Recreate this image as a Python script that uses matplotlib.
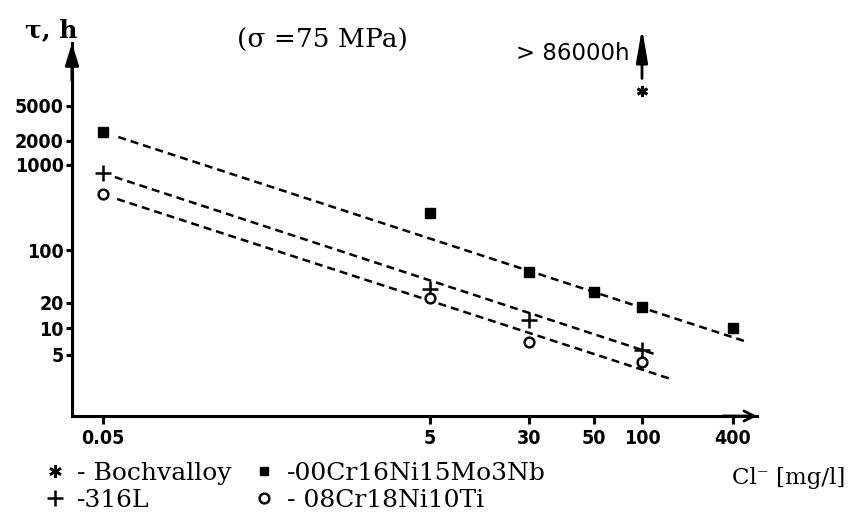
import numpy as np
import matplotlib
matplotlib.use("Agg")
import matplotlib.pyplot as plt
from matplotlib.lines import Line2D

# ---------------- data ----------------
cl_ticks = [0.05, 5, 30, 50, 100, 400]
cl_tick_labels = ["0.05", "5", "30", "50", "100", "400"]
tau_ticks = [5, 10, 20, 100, 1000, 2000, 5000]
tau_tick_labels = ["5", "10", "20", "100", "1000", "2000", "5000"]

series_names = ["Bochvalloy", "316L", "00Cr16Ni15Mo3Nb", "08Cr18Ni10Ti"]

nb_x = [0.05, 5, 30, 50, 100, 400]          # 00Cr16Ni15Mo3Nb (squares)
nb_y = [2500, 270, 51, 28, 18, 10]
l316_x = [0.05, 5, 30, 100]                 # 316L (plus)
l316_y = [800, 31, 12.5, 5.7]
ti_x = [0.05, 5, 30, 100]                   # 08Cr18Ni10Ti (circles)
ti_y = [450, 23, 7.0, 4.2]
boch_x = [100]                              # Bochvalloy (off scale)
boch_y = [86000]
off_scale_y = 7400                          # where off-scale values are drawn

# fitted (dashed) trend lines: end points
fit_nb_x = [0.062, 495]
fit_nb_y = [2220, 7.0]
fit_316_x = [0.059, 122]
fit_316_y = [722, 5.1]
fit_ti_x = [0.061, 156]
fit_ti_y = [398, 2.7]

# ---------------- scales: the scanned axes are only roughly logarithmic ----
x_anchor_log = [-3.0] + list(np.log10(cl_ticks)) + [4.0]
x_anchor_pos = [-175, 103, 430, 529, 594, 642, 733, 944]
y_anchor_log = [-1.0] + list(np.log10(tau_ticks)) + [6.0]
y_anchor_pos = [12, 165, 192, 217, 270, 355, 379, 414, 616]


def fx(v):
    v = np.clip(np.asarray(v, dtype=float), 1e-12, None)
    return np.interp(np.log10(v), x_anchor_log, x_anchor_pos)


def ifx(t):
    return 10 ** np.interp(np.asarray(t, dtype=float), x_anchor_pos, x_anchor_log)


def fy(v):
    v = np.clip(np.asarray(v, dtype=float), 1e-12, None)
    return np.interp(np.log10(v), y_anchor_log, y_anchor_pos)


def ify(t):
    return 10 ** np.interp(np.asarray(t, dtype=float), y_anchor_pos, y_anchor_log)


W, H = 850, 520
fig = plt.figure(figsize=(W / 100, H / 100), dpi=100)
fig.patch.set_facecolor("white")

ax_l, ax_r, ax_b, ax_t = 72, 757, 416, 43   # pixel frame
ax = fig.add_axes([ax_l / W, (H - ax_b) / H, (ax_r - ax_l) / W, (ax_b - ax_t) / H])
ax.set_xscale("function", functions=(fx, ifx))
ax.set_yscale("function", functions=(fy, ify))
ax.set_xlim(float(ifx(ax_l)), float(ifx(ax_r)))
ax.set_ylim(float(ify(H - ax_b)), float(ify(H - ax_t)))

dash = (0, (3.2, 2.0))
lw_fit = 1.8
ax.plot(fit_nb_x, fit_nb_y, color="black", lw=lw_fit, linestyle=dash)
ax.plot(fit_316_x, fit_316_y, color="black", lw=lw_fit, linestyle=dash)
ax.plot(fit_ti_x, fit_ti_y, color="black", lw=lw_fit, linestyle=dash)

ax.plot(nb_x, nb_y, linestyle="none", marker="s", markersize=7.5,
        color="black", clip_on=False)
ax.plot(l316_x, l316_y, linestyle="none", marker="+", markersize=11,
        markeredgewidth=1.8, color="black", clip_on=False)
ax.plot(ti_x, ti_y, linestyle="none", marker="o", markersize=7,
        markerfacecolor="white", markeredgewidth=1.8, color="black", clip_on=False)

boch_plot_y = np.minimum(boch_y, off_scale_y)
ax.plot(boch_x, boch_plot_y, linestyle="none", marker=(6, 2, 0), markersize=8,
        markeredgewidth=2, color="black", clip_on=False)
ax.annotate("", xy=(boch_x[0], 1.04), xycoords=("data", "axes fraction"),
            xytext=(boch_x[0], 0.905), textcoords=("data", "axes fraction"),
            arrowprops=dict(arrowstyle="-|>,head_length=1.0,head_width=0.17",
                            lw=2.0, color="black",
                            mutation_scale=20, shrinkA=0, shrinkB=0),
            annotation_clip=False)
ax.annotate(f"> {boch_y[0]}h", xy=(boch_x[0], 0.973),
            xycoords=("data", "axes fraction"), xytext=(-9, 0),
            textcoords="offset points", ha="right", va="center",
            fontsize=16.5, family="DejaVu Sans", annotation_clip=False)

# axes styling
for s in ["top", "right"]:
    ax.spines[s].set_visible(False)
for s in ["left", "bottom"]:
    ax.spines[s].set_linewidth(2.2)
ax.annotate("", xy=(0, 1.0), xycoords="axes fraction", xytext=(0, 0.9),
            textcoords="axes fraction",
            arrowprops=dict(arrowstyle="-|>,head_length=0.65,head_width=0.2",
                            lw=2.2, color="black",
                            mutation_scale=20, shrinkA=0, shrinkB=0),
            annotation_clip=False)
ax.annotate("", xy=(1.0, 0), xycoords="axes fraction", xytext=(0.95, 0),
            textcoords="axes fraction",
            arrowprops=dict(arrowstyle="->", lw=2.0, color="black",
                            mutation_scale=18, shrinkA=0, shrinkB=0),
            annotation_clip=False)

tick_font = dict(family="DejaVu Sans", weight="bold", stretch="condensed", size=14)
ax.set_xticks(cl_ticks)
ax.set_xticklabels(cl_tick_labels, fontdict=tick_font)
ax.set_yticks(tau_ticks)
ax.set_yticklabels(tau_tick_labels, fontdict=tick_font)
ax.minorticks_off()
ax.tick_params(axis="x", direction="out", length=6, width=2.2, pad=3)
ax.tick_params(axis="y", direction="out", length=4, width=2.2, pad=2)

serif = ["DejaVu Serif", "Liberation Serif"]
fig.text(25 / W, 1 - 30 / H, "τ, h", family=serif, weight="bold",
         fontsize=18, ha="left", va="center")
fig.text(322 / W, 1 - 40 / H, "(σ =75 MPa)", family=serif, fontsize=19,
         ha="center", va="center")
fig.text(845 / W, 1 - 478 / H, "Cl⁻ [mg/l]", family=serif, fontsize=16.5,
         ha="right", va="center")

# legend
handles = [
    Line2D([], [], linestyle="none", marker=(6, 2, 0), markersize=9,
           markeredgewidth=1.8, color="black"),
    Line2D([], [], linestyle="none", marker="+", markersize=12,
           markeredgewidth=1.8, color="black"),
    Line2D([], [], linestyle="none", marker="s", markersize=6, color="black"),
    Line2D([], [], linestyle="none", marker="o", markersize=7,
           markerfacecolor="white", markeredgewidth=1.8, color="black"),
]
labels = [f"- {series_names[0]}", f"-{series_names[1]}",
          f"-{series_names[2]}", f"- {series_names[3]}"]
fig.legend(handles, labels, ncol=2, loc="upper left",
           bbox_to_anchor=(46 / W, 1 - 462 / H), frameon=False,
           prop=dict(family=serif, size=18), borderpad=0, borderaxespad=0,
           handlelength=0.7, handletextpad=0.55, columnspacing=0.95,
           labelspacing=0.15)

fig.savefig("out.png", dpi=100, facecolor="white")
